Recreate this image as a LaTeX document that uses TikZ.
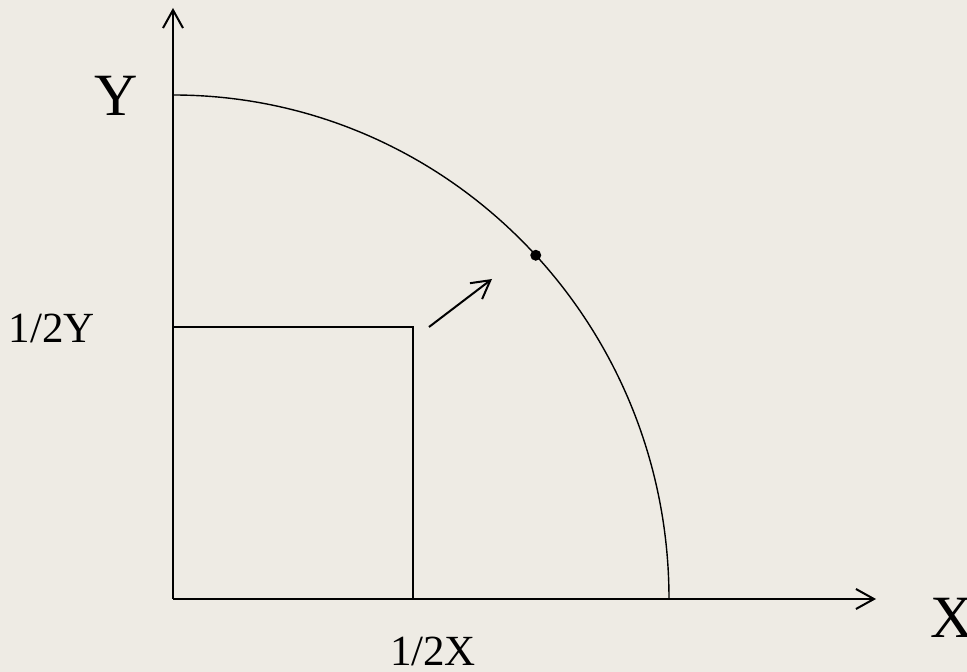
\documentclass[tikz,border=0pt]{standalone}
\usepackage{fontspec}
\setmainfont{Liberation Serif}
\usetikzlibrary{arrows.meta}
\definecolor{paper}{RGB}{238,235,228}

\begin{document}
\begin{tikzpicture}[x=1pt, y=1pt,
  axis/.style={line width=2pt, -{Straight Barb[length=18pt, width=20pt, line width=2pt]}},
  big/.style={inner sep=0pt, font=\fontsize{60}{60}\selectfont},
  small/.style={inner sep=0pt, font=\fontsize{43}{43}\selectfont}]
  \fill[paper] (-173,-73) rectangle (794,599);
  \useasboundingbox (-173,-73) rectangle (794,599);
  \coordinate (o) at (0,0);
  \coordinate (ytop) at (0,591);
  \coordinate (xend) at (703,0);
  \coordinate (sq) at (240,272);
  \coordinate (p) at (256,272);
  \coordinate (q) at (319,320);
  % axes
  \draw[axis] (o) -- (ytop);
  \draw[axis] (o) -- (xend);
  % quarter arc and half square
  \draw[line width=1.4pt] (0,504) arc[start angle=90, end angle=0, x radius=496, y radius=504];
  \draw[line width=2pt] (o |- sq) -- (sq) -- (sq |- o);
  \node[circle, fill, inner sep=0pt, minimum size=11pt] (pt) at (43:496 and 504) {};
  \draw[axis] (p) -- (q);
  % labels
  \node[big] (ylab) at (-57,503) {Y};
  \node[big] (xlab) at (779,-19) {X};
  \node[small] (hy) at (-121,271) {1/2Y};
  \node[small] (hx) at (260,-52) {1/2X};
\end{tikzpicture}
\end{document}
